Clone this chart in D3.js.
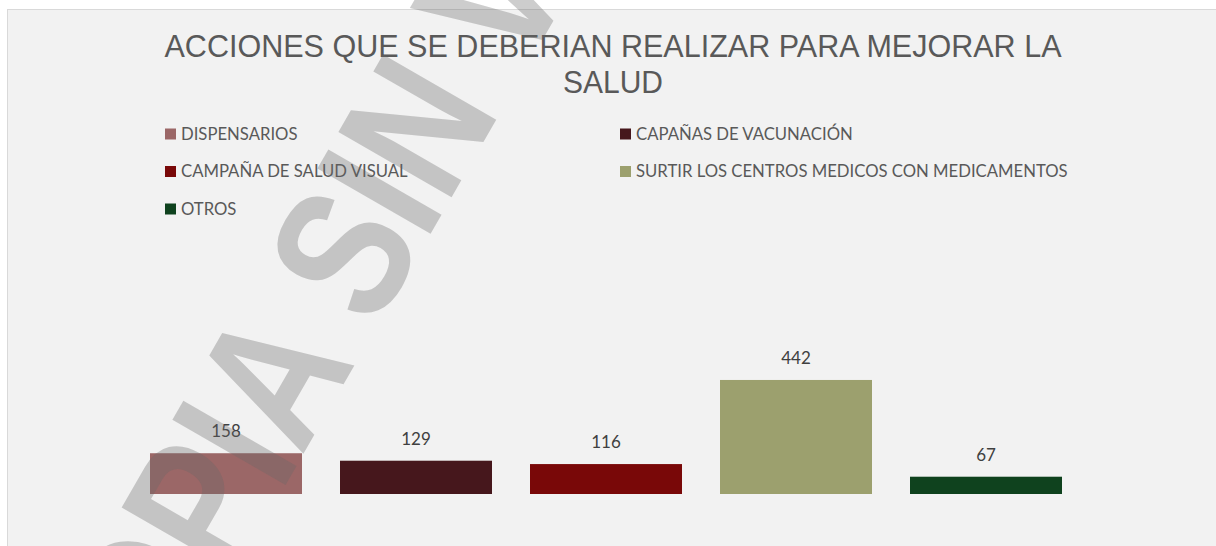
<!DOCTYPE html>
<html>
<head>
<meta charset="utf-8">
<script src="https://cdn.jsdelivr.net/npm/d3@7"></script>
<style>
  body { margin: 0; background: #fff; }
  svg { display: block; }
</style>
</head>
<body>
<div id="chart"></div>
<script>
// data
var categories = ["DISPENSARIOS", "CAPAÑAS DE VACUNACIÓN", "CAMPAÑA DE SALUD VISUAL",
                  "SURTIR LOS CENTROS MEDICOS CON MEDICAMENTOS", "OTROS"];
var values = [158, 129, 116, 442, 67];
var colors = ["#9b6767", "#46171c", "#790808", "#9ca06e", "#0f421e"];
var titleLines = ["ACCIONES QUE SE DEBERIAN REALIZAR PARA MEJORAR LA", "SALUD"];
var watermark = "COPIA SIN VALOR";

(function(){
  var width = 1216, height = 546;

  var svg = d3.select("#chart").append("svg")
    .attr("width", width)
    .attr("height", height);

  // chart area
  svg.append("rect")
    .attr("x", 7.5).attr("y", 9.5)
    .attr("width", width).attr("height", height)
    .attr("fill", "#f2f2f2")
    .attr("stroke", "#d9d9d9");

  // title
  svg.append("g").selectAll("text")
    .data(titleLines)
    .enter().append("text")
    .attr("x", 613)
    .attr("y", function(d, i) { return 57 + i * 36; })
    .attr("text-anchor", "middle")
    .attr("font-family", "'Liberation Sans', Arial, sans-serif")
    .attr("font-size", 32)
    .attr("fill", "#595959")
    .attr("textLength", function(d, i) { return i == 0 ? 897 : 100; })
    .attr("lengthAdjust", "spacingAndGlyphs")
    .text(function(d) { return d; });

  // legend, two columns
  var legend = svg.append("g").selectAll(".legend")
    .data(categories)
    .enter().append("g")
    .attr("class", "legend")
    .attr("transform", function(d, i) {
      return "translate(" + (i % 2 == 0 ? 165 : 620) + "," + (134 + Math.floor(i / 2) * 37.5) + ")";
    });

  legend.append("rect")
    .attr("x", 0).attr("y", -5.5)
    .attr("width", 11).attr("height", 11)
    .attr("fill", function(d, i) { return colors[i]; });

  legend.append("text")
    .attr("x", 16)
    .attr("dy", "0.35em")
    .attr("font-family", "Lato, 'Open Sans', sans-serif")
    .attr("font-size", 16.7)
    .attr("fill", "#595959")
    .text(function(d) { return d; });

  // scales
  var x = d3.scaleBand()
    .domain(categories)
    .range([131, 1081])
    .paddingInner(0.2)
    .paddingOuter(0.1);

  var y = d3.scaleLinear()
    .domain([0, 500])
    .range([494, 365]);

  var g = svg.append("g");

  g.selectAll(".bar")
    .data(categories)
    .enter().append("rect")
    .attr("class", "bar")
    .attr("x", function(d) { return x(d); })
    .attr("width", x.bandwidth())
    .attr("y", function(d, i) { return y(values[i]); })
    .attr("height", function(d, i) { return y(0) - y(values[i]); })
    .attr("fill", function(d, i) { return colors[i]; });

  // watermark over the bars
  svg.append("text")
    .attr("transform", "translate(392,168) rotate(-60) scale(0.8,1)")
    .attr("text-anchor", "middle")
    .attr("dominant-baseline", "central")
    .attr("font-family", "'Liberation Sans', Arial, sans-serif")
    .attr("font-weight", "bold")
    .attr("font-size", 190)
    .attr("fill", "#686868")
    .attr("fill-opacity", 0.33)
    .text(watermark);

  // value labels
  g.selectAll(".label")
    .data(categories)
    .enter().append("text")
    .attr("class", "label")
    .attr("x", function(d) { return x(d) + x.bandwidth() / 2; })
    .attr("y", function(d, i) { return y(values[i]) - 16; })
    .attr("text-anchor", "middle")
    .attr("font-family", "Lato, 'Open Sans', sans-serif")
    .attr("font-size", 17)
    .attr("fill", "#404040")
    .text(function(d, i) { return values[i]; });
})();
</script>
</body>
</html>
